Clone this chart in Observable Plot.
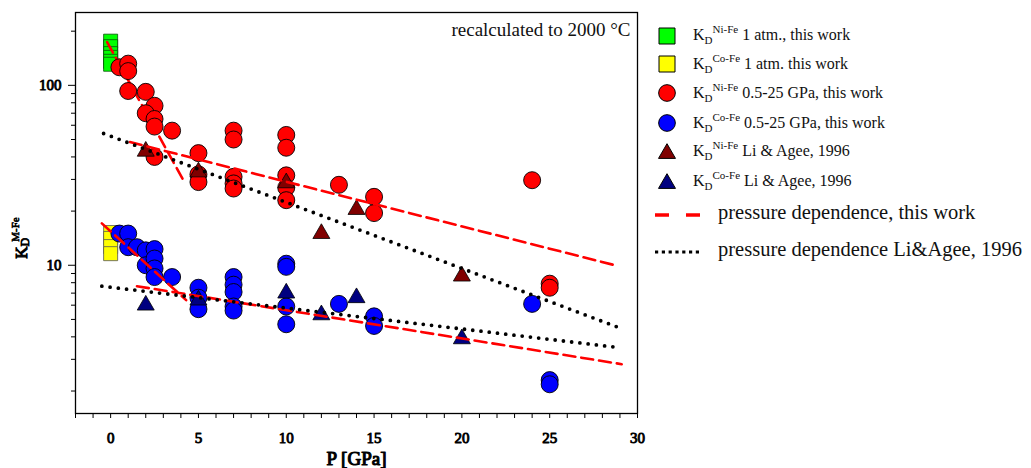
<!DOCTYPE html>
<html><head><meta charset="utf-8">
<script src="https://cdn.jsdelivr.net/npm/d3@7"></script>
<script src="https://cdn.jsdelivr.net/npm/@observablehq/plot@0.6"></script>
<style>
body{margin:0;background:#fff;font-family:"Liberation Serif","Times New Roman",serif;}
#wrap{position:relative;width:1031px;height:468px;overflow:hidden;background:#fff;}
#chart{position:absolute;left:0;top:0;}
.sym{position:absolute;width:22px;height:20px;}
.lt{position:absolute;height:20px;line-height:20px;font-size:16px;white-space:nowrap;color:#111;}
.lt .sb{position:relative;top:4px;font-size:11px;}
.lt .sp{position:relative;top:-7px;font-size:11px;}
.ll{position:absolute;height:24px;line-height:24px;font-size:20.5px;white-space:nowrap;color:#111;}
</style></head>
<body>
<div id="wrap"><div id="chart"></div></div>
<script>
// ---- data ----
const niFe1atmP = [0, 0, 0, 0, 0, 0];
const niFe1atmK = [176, 164, 150, 143, 136, 131];
const coFe1atmP = [0, 0, 0, 0];
const coFe1atmK = [15.2, 14.1, 12.7, 11.6];

const niFeHPP = [0.5, 1, 1, 1, 2, 2.5, 2, 2.5, 2.5, 3.5, 2.5, 5, 5, 5, 7, 7, 7, 7, 7, 10, 10, 10, 10, 10, 13, 15, 15, 24, 25, 25];
const niFeHPK = [126, 132, 120, 93, 92, 77, 70, 65, 59, 56, 40, 42, 32, 29, 56, 50, 31, 28.5, 26.7, 53, 45, 31.6, 27, 23, 28, 24, 19.5, 29.7, 7.9, 7.5];

const coFeHPP = [0.5, 1, 1, 1.5, 2, 2, 2.5, 2.5, 2.5, 2.5, 3.5, 5, 5, 5, 7, 7, 7, 7, 7, 10, 10, 10, 10, 13, 15, 15, 24, 25, 25];
const coFeHPK = [15.0, 15.0, 12.6, 12.6, 12.1, 10, 12.3, 10.9, 9.6, 8.6, 8.6, 7.5, 6.6, 5.7, 8.6, 7.8, 7.1, 5.9, 5.6, 10.2, 9.8, 5.9, 4.7, 6.1, 5.2, 4.6, 6.1, 2.3, 2.18];

const niFeLiP = [2, 5, 10, 12, 14, 20];
const niFeLiK = [43, 33, 28.7, 15, 20.4, 8.7];
const coFeLiP = [2, 5, 10, 12, 14, 20];
const coFeLiK = [6.0, 6.4, 7.0, 5.3, 6.6, 3.9];

// pressure dependence lines (end points)
const niSteepP = [-0.2, 4.2],  niSteepK = [174, 29];
const niShallowP = [1.1, 28.9], niShallowK = [48.4, 9.9];
const coSteepP = [-0.5, 4.3],  coSteepK = [17.1, 6.4];
const coShallowP = [1.5, 29.1], coShallowK = [7.65, 2.82];
const niLiP = [-0.4, 28.95], niLiK = [54, 4.5];
const coLiP = [-0.5, 28.8],  coLiK = [7.65, 3.5];

// ticks
const xTicks = [-2,-1,0,1,2,3,4,5,6,7,8,9,10,11,12,13,14,15,16,17,18,19,20,21,22,23,24,25,26,27,28,29,30];
const xTickLabels = [0, 5, 10, 15, 20, 25, 30];
const yMajorTicks = [10, 100];
const yMinorTicks = [2, 3, 4, 5, 6, 7, 8, 9, 20, 30, 40, 50, 60, 70, 80, 90, 200];

const annotation = "recalculated to 2000 °C";
const xLabel = "P [GPa]";

const legendItems = [
  {sup: "Ni-Fe", text: "1 atm., this work", symbol: "square", fill: "#00ff00", cy: 35.7},
  {sup: "Co-Fe", text: "1 atm. this work", symbol: "square", fill: "#ffff00", cy: 64.3},
  {sup: "Ni-Fe", text: "0.5-25 GPa, this work", symbol: "circle", fill: "#ff0000", cy: 93.3},
  {sup: "Co-Fe", text: "0.5-25 GPa, this work", symbol: "circle", fill: "#0000ff", cy: 123.3},
  {sup: "Ni-Fe", text: "Li & Agee, 1996", symbol: "triangle", fill: "#800000", cy: 151.7},
  {sup: "Co-Fe", text: "Li & Agee, 1996", symbol: "triangle", fill: "#000080", cy: 181.7}
];
const lineLegend = [
  {text: "pressure dependence, this work", kind: "dash", cy: 215},
  {text: "pressure dependence Li&Agee, 1996", kind: "dot", cy: 251.7}
];

// ---- build ----
const pts = (P, K) => P.map((p, i) => ({P: p, K: K[i]}));
const dashStyle = {x: "P", y: "K", stroke: "#ff0000", strokeWidth: 2.6, strokeDasharray: "12,6"};
const dotStyle = {x: "P", y: "K", stroke: "#000", strokeWidth: 3.8, strokeDasharray: "0,8.3", strokeLinecap: "round"};

const fig = Plot.plot({
  width: 650, height: 468,
  marginLeft: 75, marginTop: 12, marginRight: 13, marginBottom: 55,
  style: {fontFamily: "Liberation Serif", fontSize: "15px", fontWeight: "normal", color: "#000", background: "#fff", overflow: "visible"},
  x: {domain: [-2, 30]},
  y: {type: "log", domain: [1.5, 254]},
  marks: [
    Plot.axisX({ticks: xTicks, tickSize: 5, tickPadding: 14, tickFormat: d => xTickLabels.includes(d) ? String(d) : "", label: null}),
    Plot.axisY({ticks: yMinorTicks, tickSize: 4, tickFormat: () => "", label: null}),
    Plot.axisY({ticks: yMajorTicks, tickSize: 7, tickPadding: 7, tickFormat: d => String(d), label: null}),
    Plot.frame({stroke: "#000", strokeWidth: 1.3}),
    Plot.dot(pts(niFe1atmP, niFe1atmK), {x: "P", y: "K", symbol: "square", r: 7.9, fill: "#00ff00", stroke: "#0b4f0b", strokeWidth: 0.8}),
    Plot.dot(pts(coFe1atmP, coFe1atmK), {x: "P", y: "K", symbol: "square", r: 7.9, fill: "#ffff00", stroke: "#555", strokeWidth: 0.8}),
    Plot.line(pts(niSteepP, niSteepK), dashStyle),
    Plot.dot(pts(niFeHPP, niFeHPK), {x: "P", y: "K", r: 8.5, fill: "#ff0000", stroke: "#000", strokeWidth: 0.9}),
    Plot.dot(pts(niFeLiP, niFeLiK), {x: "P", y: "K", symbol: "triangle", r: 6.3, fill: "#800000", stroke: "#000", strokeWidth: 0.8}),
    Plot.dot(pts(coFeHPP, coFeHPK), {x: "P", y: "K", r: 8.5, fill: "#0000ff", stroke: "#000", strokeWidth: 0.9}),
    Plot.dot(pts(coFeLiP, coFeLiK), {x: "P", y: "K", symbol: "triangle", r: 6.3, fill: "#000080", stroke: "#000", strokeWidth: 0.8}),
    Plot.line(pts(niShallowP, niShallowK), dashStyle),
    Plot.line(pts(coSteepP, coSteepK), dashStyle),
    Plot.line(pts(coShallowP, coShallowK), dashStyle),
    Plot.line(pts(niLiP, niLiK), dotStyle),
    Plot.line(pts(coLiP, coLiK), dotStyle),
    Plot.text([annotation], {text: d => d, frameAnchor: "top-right", textAnchor: "end", lineAnchor: "top", dx: -7, dy: 10, fontSize: 19, fill: "#111"}),
    Plot.text([xLabel], {text: d => d, frameAnchor: "bottom", lineAnchor: "middle", dy: 45, fontSize: 19, fill: "#000"})
  ]
});
document.getElementById("chart").appendChild(fig);

const svg = d3.select(fig);
// serif faux-bold for tick labels and x label: stroke painted under the fill
svg.selectAll("text").each(function() {
  const t = d3.select(this);
  t.attr("font-family", "Liberation Serif").style("font-family", "'Liberation Serif', serif");
  const txt = t.text();
  if (txt === annotation) return;
  t.attr("stroke", "#000").attr("stroke-width", txt === xLabel ? 1.1 : 0.9).attr("paint-order", "stroke").attr("stroke-linejoin", "round");
});

// y-axis label with subscript / superscript
const yl = svg.append("text")
  .attr("transform", "translate(26.7,238) rotate(-90)")
  .style("font-family", "'Liberation Serif', serif").attr("font-size", 17).attr("fill", "#000")
  .attr("stroke", "#000").attr("stroke-width", 1.1).attr("paint-order", "stroke").attr("stroke-linejoin", "round");
yl.append("tspan").text("K");
yl.append("tspan").attr("font-size", 12).attr("stroke-width", 0.8).attr("dy", 2).text("D");
yl.append("tspan").attr("font-size", 11).attr("stroke-width", 0.7).attr("dx", -4).attr("dy", -9.5).text("M-Fe");

// legend
const wrap = d3.select("#wrap");
const symPath = {square: d3.symbol(d3.symbolSquare, 256)(), circle: d3.symbol(d3.symbolCircle, 219)(), triangle: d3.symbol(d3.symbolTriangle, 125)()};
legendItems.forEach(it => {
  const s = wrap.append("svg").attr("class", "sym").style("left", "655.7px").style("top", (it.cy - 10) + "px");
  s.append("path").attr("d", symPath[it.symbol]).attr("transform", it.symbol === "triangle" ? "translate(11,11.5)" : "translate(11,10)")
    .attr("fill", it.fill).attr("stroke", "#000").attr("stroke-width", 1);
  const t = wrap.append("div").attr("class", "lt").style("left", "693px").style("top", (it.cy - 10.4) + "px");
  t.append("span").text("K");
  t.append("span").attr("class", "sb").text("D");
  t.append("span").attr("class", "sp").text(it.sup);
  t.append("span").text(" " + it.text);
});
lineLegend.forEach(it => {
  const s = wrap.append("svg").style("position", "absolute").style("left", "650px").style("top", (it.cy - 10) + "px").attr("width", 56).attr("height", 20);
  if (it.kind === "dash") {
    s.append("line").attr("x1", 5).attr("x2", 50).attr("y1", 10).attr("y2", 10).attr("stroke", "#ff0000").attr("stroke-width", 3.3).attr("stroke-dasharray", "14,17");
  } else {
    s.append("line").attr("x1", 5).attr("x2", 50).attr("y1", 10).attr("y2", 10).attr("stroke", "#000").attr("stroke-width", 3.2).attr("stroke-dasharray", "3.2,3.6");
  }
  wrap.append("div").attr("class", "ll").style("left", "718px").style("top", (it.cy - 15) + "px").text(it.text);
});
</script>
</body></html>
